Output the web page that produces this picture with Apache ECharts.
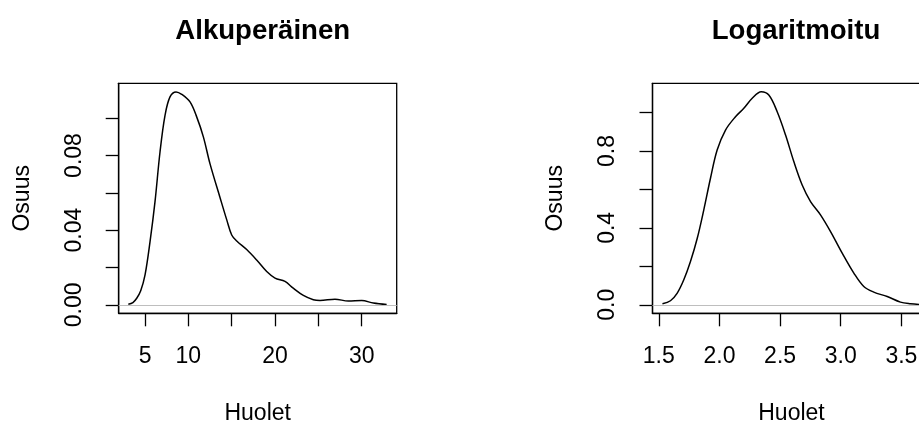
<!DOCTYPE html>
<html>
<head>
<meta charset="utf-8">
<script src="https://cdn.jsdelivr.net/npm/echarts@6/dist/echarts.min.js"></script>
<style>
  html, body { margin: 0; padding: 0; background: #fff; }
  #chart { width: 919px; height: 423px; }
</style>
</head>
<body>
<div id="chart"></div>
<script>
// density of the original values
var origX = [3.07, 3.6, 4.04, 4.5, 5.0, 5.58, 6.15, 6.73, 7.31, 7.88, 8.58, 9.23, 10.19, 10.96, 11.73, 12.5, 13.65, 14.43, 15.0, 15.58, 16.73, 17.88, 19.04, 20.0, 21.15, 22.1, 23.27, 24.42, 25.19, 26.92, 28.46, 30.0, 31.35, 32.88];
var origY = [0.0003, 0.0012, 0.0035, 0.0075, 0.016, 0.034, 0.0553, 0.082, 0.1016, 0.1114, 0.1141, 0.1128, 0.1087, 0.1007, 0.090, 0.0755, 0.0575, 0.0455, 0.0374, 0.0342, 0.0296, 0.024, 0.0178, 0.0143, 0.0125, 0.0089, 0.005, 0.0027, 0.0023, 0.003, 0.002, 0.0023, 0.0009, 0.0001];

// density of the log values
var logX = [1.53, 1.596, 1.652, 1.706, 1.761, 1.817, 1.871, 1.926, 1.981, 2.05, 2.132, 2.201, 2.27, 2.344, 2.407, 2.476, 2.545, 2.613, 2.682, 2.751, 2.833, 2.916, 3.012, 3.108, 3.19, 3.272, 3.383, 3.492, 3.575, 3.655];
var logY = [0.005, 0.021, 0.061, 0.130, 0.225, 0.346, 0.494, 0.658, 0.805, 0.909, 0.978, 1.022, 1.074, 1.108, 1.091, 1.004, 0.883, 0.745, 0.623, 0.537, 0.468, 0.381, 0.269, 0.165, 0.095, 0.066, 0.043, 0.014, 0.005, 0.001];

// ticks and labels
var origTicksX = [5, 10, 15, 20, 25, 30];
var origLabelsX = [5, 10, 20, 30];
var origTicksY = [0, 0.02, 0.04, 0.06, 0.08, 0.10];
var origLabelsY = [0, 0.04, 0.08];
var logTicksX = [1.5, 2.0, 2.5, 3.0, 3.5];
var logTicksY = [0, 0.2, 0.4, 0.6, 0.8, 1.0];
var logLabelsY = [0, 0.4, 0.8];

var titles = ['Alkuperäinen', 'Logaritmoitu'];
var xName = 'Huolet';
var yName = 'Osuus';

var FONT = '"Liberation Sans", Arial, Helvetica, sans-serif';

function pairs(xs, ys) {
  var out = [];
  for (var i = 0; i < xs.length; i++) out.push([xs[i], ys[i]]);
  return out;
}

function xAxisOf(idx, min, max, ticks, labels, dec) {
  return {
    type: 'value', gridIndex: idx, min: min, max: max,
    name: xName, nameLocation: 'middle', nameGap: 89,
    nameTextStyle: { fontFamily: FONT, fontSize: 23, color: '#000' },
    splitLine: { show: false },
    axisLine: { show: true, onZero: false, lineStyle: { color: '#000', width: 1.3 } },
    axisTick: { show: true, length: 13, customValues: ticks, lineStyle: { color: '#000', width: 1.3 } },
    axisLabel: {
      customValues: labels, margin: 32,
      fontFamily: FONT, fontSize: 23, color: '#000',
      formatter: function (v) { return dec ? v.toFixed(dec) : String(v); }
    }
  };
}

function yAxisOf(idx, min, max, ticks, labels, dec) {
  return {
    type: 'value', gridIndex: idx, min: min, max: max,
    name: yName, nameLocation: 'middle', nameGap: 85, nameRotate: 90,
    nameTextStyle: { fontFamily: FONT, fontSize: 23, color: '#000' },
    splitLine: { show: false },
    axisLine: { show: true, onZero: false, lineStyle: { color: '#000', width: 1.3 } },
    axisTick: { show: true, length: 13, customValues: ticks, lineStyle: { color: '#000', width: 1.3 } },
    axisLabel: {
      customValues: labels, margin: 33, rotate: 90,
      fontFamily: FONT, fontSize: 23, color: '#000',
      formatter: function (v) { return v.toFixed(dec); }
    }
  };
}

function seriesOf(idx, data) {
  return {
    type: 'line', xAxisIndex: idx, yAxisIndex: idx,
    data: data, showSymbol: false, symbol: 'none', smooth: 0.35,
    lineStyle: { color: '#000', width: 1.5 },
    silent: true, animation: false,
    markLine: {
      silent: true, symbol: 'none', label: { show: false },
      lineStyle: { color: '#bebebe', type: 'solid', width: 1.2 },
      data: [{ yAxis: 0 }]
    }
  };
}

var chart = echarts.init(document.getElementById('chart'), null, { renderer: 'canvas' });

// plot boxes in fixed pixels, no auto shrinking for labels
var gridBase = {
  top: 83.3, width: 278, height: 230, show: true,
  borderColor: '#000', borderWidth: 1.3, backgroundColor: 'transparent',
  containLabel: false, outerBoundsMode: 'none'
};

chart.setOption({
  backgroundColor: '#fff',
  animation: false,
  title: [
    { text: titles[0], left: 257.7, top: 12, textAlign: 'center',
      textStyle: { fontFamily: FONT, fontSize: 27.6, fontWeight: 'bold', color: '#000' } },
    { text: titles[1], left: 791, top: 12, textAlign: 'center',
      textStyle: { fontFamily: FONT, fontSize: 27.6, fontWeight: 'bold', color: '#000' } }
  ],
  grid: [
    Object.assign({ left: 118.7 }, gridBase),
    Object.assign({ left: 652.5 }, gridBase)
  ],
  xAxis: [
    xAxisOf(0, 1.96, 34.04, origTicksX, origLabelsX, 0),
    xAxisOf(1, 1.448, 3.74, logTicksX, logTicksX, 1)
  ],
  yAxis: [
    yAxisOf(0, -0.00456, 0.1187, origTicksY, origLabelsY, 2),
    yAxisOf(1, -0.0443, 1.152, logTicksY, logLabelsY, 1)
  ],
  series: [
    seriesOf(0, pairs(origX, origY)),
    seriesOf(1, pairs(logX, logY))
  ]
});
</script>
</body>
</html>
